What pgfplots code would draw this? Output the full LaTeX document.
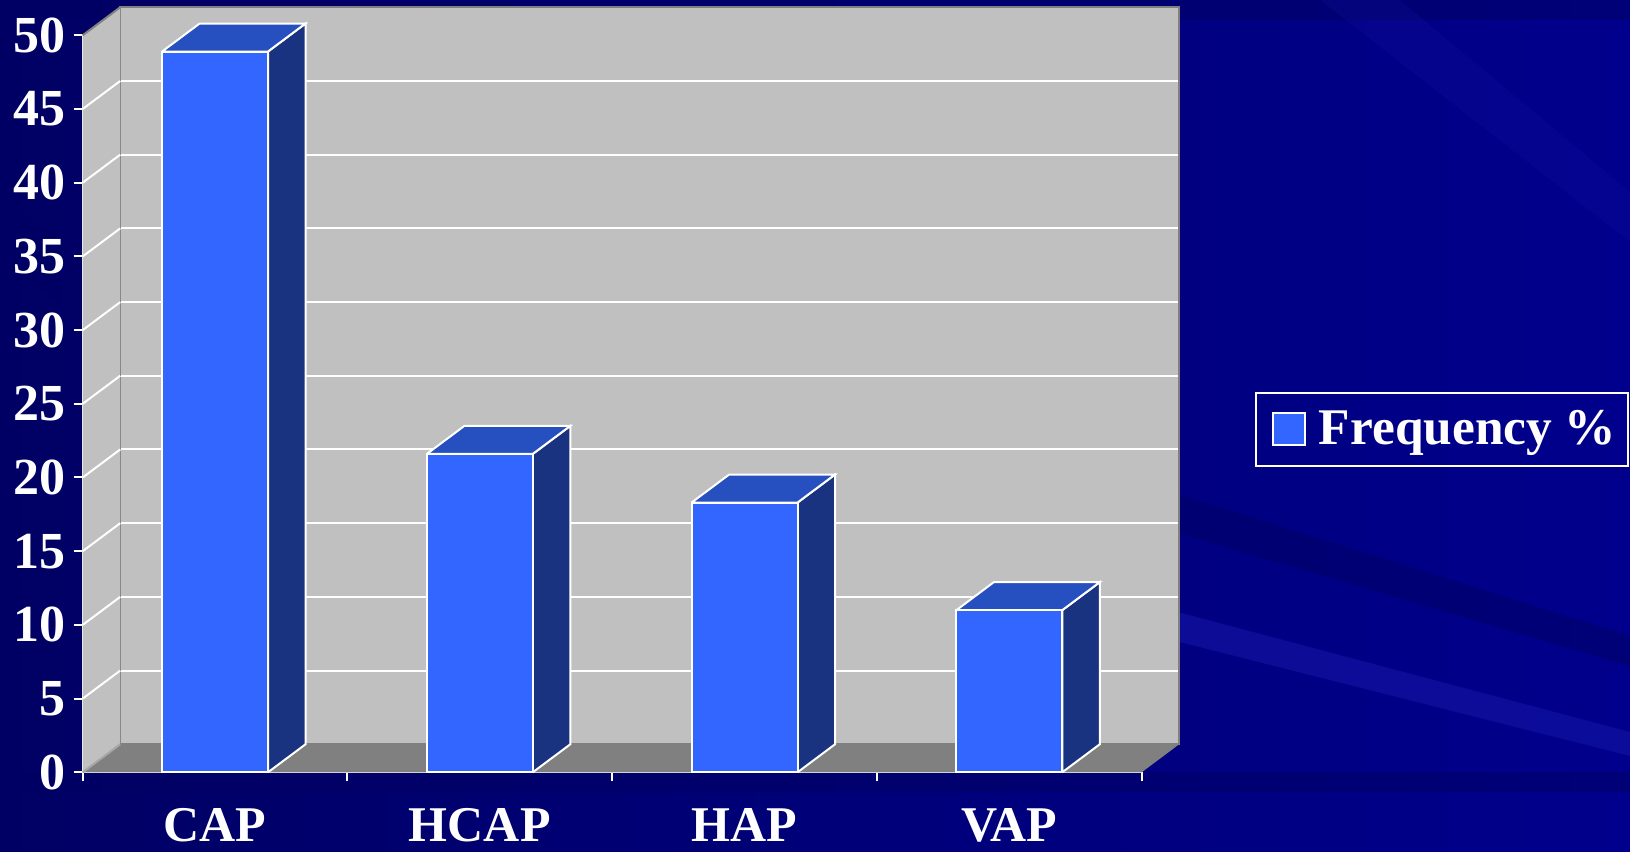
\documentclass[border=0pt]{standalone}
\usepackage{pgfplots}
\pgfplotsset{compat=1.18}
\usepackage{fontspec}
\setmainfont{Liberation Serif}
\definecolor{bgbase}{RGB}{0,0,140}
\definecolor{bgdark}{RGB}{0,0,100}
\definecolor{bglight}{RGB}{20,20,165}
\definecolor{wallgray}{RGB}{192,192,192}
\definecolor{floorgray}{RGB}{128,128,128}
\definecolor{edgegray}{RGB}{128,128,128}
\definecolor{barfront}{RGB}{51,102,255}
\definecolor{bartop}{RGB}{38,79,191}
\definecolor{barside}{RGB}{26,51,128}
\newcommand{\tickfont}{\bfseries\fontsize{26pt}{30pt}\selectfont}
\newcommand{\catfont}{\bfseries\fontsize{25pt}{30pt}\selectfont}
\newcommand{\legfont}{\bfseries\fontsize{25.7pt}{30pt}\selectfont}
\begin{document}
\begin{tikzpicture}
\useasboundingbox (0,0) rectangle (815pt,426pt);
% background
\shade[left color=bgdark, right color=bgbase] (0,0) rectangle (815pt,426pt);
\fill[bgdark, opacity=0.5] (0,426pt) rectangle (815pt,416pt);
\fill[bglight, opacity=0.6] (570pt,125pt) -- (815pt,60pt) -- (815pt,48pt) -- (570pt,110pt) -- cycle;
\fill[bgdark, opacity=0.5] (570pt,185pt) -- (815pt,108pt) -- (815pt,93pt) -- (570pt,165pt) -- cycle;
\fill[bglight, opacity=0.2] (660pt,426pt) -- (700pt,426pt) -- (815pt,330pt) -- (815pt,305pt) -- cycle;
\fill[bgdark, opacity=0.4] (0pt,330pt) -- (0pt,300pt) -- (45pt,260pt) -- (45pt,290pt) -- cycle;
\fill[bgdark, opacity=0.5] (0pt,40pt) rectangle (815pt,30pt);

% back wall (shifted copy of the front plane)
\begin{axis}[
  at={(60.1pt,53.85pt)}, anchor=south west,
  scale only axis, width=529.5pt, height=368.5pt,
  xmin=0, xmax=4, ymin=0, ymax=50,
  axis background/.style={fill=wallgray},
  axis line style={draw=edgegray, line width=1pt},
  xtick=\empty, ytick={5,10,...,45}, yticklabels={},
  major tick length=0pt,
  ymajorgrids, grid style={white, line width=1pt},
]
\addplot[draw=none] coordinates {(0,0)};
\end{axis}

% front plane with floor, left wall and bars
\begin{axis}[
  at={(41.35pt,39.85pt)}, anchor=south west,
  scale only axis, width=529.5pt, height=368.5pt,
  xmin=0, xmax=4, ymin=0, ymax=50, clip=false,
  axis lines=left,
  axis line style={white, line width=1pt, -},
  tick style={white, line width=1pt},
  tick align=outside, major tick length=4.5pt,
  xtick={0,1,2,3,4}, x tick label as interval,
  xticklabels={CAP,HCAP,HAP,VAP},
  ytick={0,5,...,50},
  /pgf/number format/assume math mode=true,
  tick label style={text=white},
  xticklabel style={yshift=-10pt, font=\catfont},
  yticklabel style={xshift=-0.5pt, font=\tickfont},
  legend style={at={(1.1067,0.4655)}, anchor=west, draw=white, line width=1pt,
    fill=none, text=white, font=\legfont, inner xsep=5pt, inner ysep=7pt,
    nodes={inner xsep=4pt}},
  legend image code/.code={\path[draw=none, fill=none] (0pt,-8pt) -- (0pt,8pt); \draw[fill=barfront, draw=white, line width=0.8pt] (3.6pt,-8pt) rectangle (19.6pt,8pt);},
]
% floor
\addplot[fill=floorgray, draw=none, forget plot] coordinates {(0,0) (4,0) (4.1416,1.9) (0.1416,1.9) (0,0)};
% left wall
\addplot[fill=wallgray, draw=none, forget plot] coordinates {(0,0) (0.1416,1.9) (0.1416,51.9) (0,50) (0,0)};
\pgfplotsinvokeforeach{5,10,15,20,25,30,35,40,45}{
  \draw[white, line width=1pt] (axis cs:0,#1) -- ++(axis direction cs:0.1416,1.9);
}
\draw[edgegray, line width=1pt] (axis cs:0,50) -- ++(axis direction cs:0.1416,1.9);
\draw[edgegray!70!white, line width=1pt] (axis cs:0,0) -- ++(axis direction cs:0.1416,1.9);
% bar side faces
\addplot[fill=barside, draw=white, line width=1pt, forget plot] coordinates {(0.7,0) (0.8416,1.9) (0.8416,50.8) (0.7,48.9) (0.7,0)};
\addplot[fill=barside, draw=white, line width=1pt, forget plot] coordinates {(1.7,0) (1.8416,1.9) (1.8416,23.5) (1.7,21.6) (1.7,0)};
\addplot[fill=barside, draw=white, line width=1pt, forget plot] coordinates {(2.7,0) (2.8416,1.9) (2.8416,20.2) (2.7,18.3) (2.7,0)};
\addplot[fill=barside, draw=white, line width=1pt, forget plot] coordinates {(3.7,0) (3.8416,1.9) (3.8416,12.9) (3.7,11.0) (3.7,0)};
% bar top faces
\addplot[fill=bartop, draw=white, line width=1pt, forget plot] coordinates {(0.3,48.9) (0.7,48.9) (0.8416,50.8) (0.4416,50.8) (0.3,48.9)};
\addplot[fill=bartop, draw=white, line width=1pt, forget plot] coordinates {(1.3,21.6) (1.7,21.6) (1.8416,23.5) (1.4416,23.5) (1.3,21.6)};
\addplot[fill=bartop, draw=white, line width=1pt, forget plot] coordinates {(2.3,18.3) (2.7,18.3) (2.8416,20.2) (2.4416,20.2) (2.3,18.3)};
\addplot[fill=bartop, draw=white, line width=1pt, forget plot] coordinates {(3.3,11.0) (3.7,11.0) (3.8416,12.9) (3.4416,12.9) (3.3,11.0)};
% bar front faces
\addplot[ybar, bar width=0.4, fill=barfront, draw=white, line width=1pt]
  coordinates {(0.5,48.9) (1.5,21.6) (2.5,18.3) (3.5,11.0)};
\addlegendentry{\hspace*{2.6pt}Frequency \%\hspace*{-3pt}}
\end{axis}
\end{tikzpicture}
\end{document}
